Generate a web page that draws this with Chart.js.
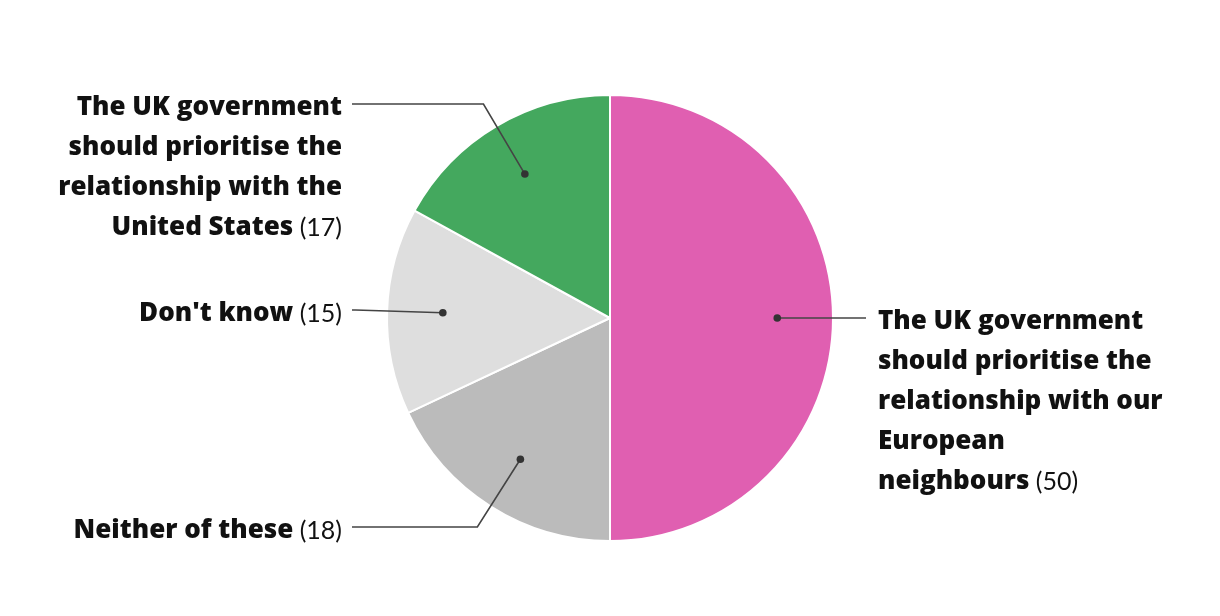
<!DOCTYPE html>
<html>
<head>
<meta charset="utf-8">
<script src="https://cdn.jsdelivr.net/npm/chart.js@4"></script>
<style>
  html, body { margin: 0; padding: 0; background: #fff; }
  #wrap { width: 1220px; height: 616px; position: relative; }
</style>
</head>
<body>
<div id="wrap"><canvas id="c" width="1220" height="616"></canvas></div>
<script>
// ---- data ----
const categories = [
  ["The UK government", "should prioritise the", "relationship with our", "European", "neighbours"],
  ["Neither of these"],
  ["Don't know"],
  ["The UK government", "should prioritise the", "relationship with the", "United States"]
];
const values = [50, 18, 15, 17];
const colors = ["#E05FB1", "#BBBBBB", "#DEDEDE", "#44A85E"];

// label layout: side, y of leader line (first text line)
const labelLayout = [
  { side: "right", y: 318 },
  { side: "left", y: 527 },
  { side: "left", y: 310 },
  { side: "left", y: 104 }
];

const BOLD_FONT = "800 26px 'Open Sans', sans-serif";
const NORM_FONT = "normal 25px Lato, sans-serif";
const LINE_H = 40;

const leaderPlugin = {
  id: "leaders",
  afterDatasetsDraw(chart) {
    const ctx = chart.ctx;
    const meta = chart.getDatasetMeta(0);
    meta.data.forEach((arc, i) => {
      const p = arc.getProps(["x", "y", "startAngle", "endAngle", "outerRadius"], true);
      const mid = (p.startAngle + p.endAngle) / 2;
      const cx = p.x, cy = p.y;
      const dx = Math.cos(mid), dy = Math.sin(mid);
      const r0 = p.outerRadius * 0.75;
      const dot = { x: cx + dx * r0, y: cy + dy * r0 };
      const lay = labelLayout[i];
      const endX = lay.side === "left" ? cx - 258 : cx + 256;
      let t = Math.abs(dy) > 1e-6 ? (lay.y - cy) / dy : Infinity;
      let tx = (endX - cx) / dx;
      if (t < r0) t = r0;
      let elbow;
      if (tx < t) { elbow = { x: cx + dx * tx, y: cy + dy * tx }; }
      else { elbow = { x: cx + dx * t, y: cy + dy * t }; }
      ctx.save();
      ctx.strokeStyle = "#444";
      ctx.lineWidth = 1.6;
      ctx.beginPath();
      ctx.moveTo(dot.x, dot.y);
      ctx.lineTo(elbow.x, elbow.y);
      ctx.lineTo(endX, elbow.y);
      ctx.stroke();
      ctx.fillStyle = "#333";
      ctx.beginPath();
      ctx.arc(dot.x, dot.y, 3.8, 0, Math.PI * 2);
      ctx.fill();

      const lines = categories[i];
      const valTxt = " (" + values[i] + ")";
      ctx.fillStyle = "#111";
      ctx.textBaseline = "middle";
      const textY0 = elbow.y + 4;
      lines.forEach((ln, k) => {
        const y = textY0 + k * LINE_H;
        const last = k === lines.length - 1;
        ctx.font = BOLD_FONT;
        const wb = ctx.measureText(ln).width;
        ctx.font = NORM_FONT;
        const wv = last ? ctx.measureText(valTxt).width : 0;
        let x0;
        if (lay.side === "left") x0 = endX - 10 - wb - wv;
        else x0 = endX + 12;
        ctx.textAlign = "left";
        ctx.font = BOLD_FONT;
        ctx.fillText(ln, x0, y);
        if (last) {
          ctx.font = NORM_FONT;
          ctx.fillText(valTxt, x0 + wb, y);
        }
      });
      ctx.restore();
    });
  }
};

new Chart(document.getElementById("c"), {
  type: "pie",
  data: {
    labels: categories.map(c => c.join(" ")),
    datasets: [{
      data: values,
      backgroundColor: colors,
      borderColor: "#ffffff",
      borderWidth: 2
    }]
  },
  options: {
    responsive: false,
    animation: false,
    layout: { padding: { top: 94, bottom: 74, left: 0, right: 0 } },
    plugins: { legend: { display: false }, tooltip: { enabled: false } }
  },
  plugins: [leaderPlugin]
});
</script>
</body>
</html>
